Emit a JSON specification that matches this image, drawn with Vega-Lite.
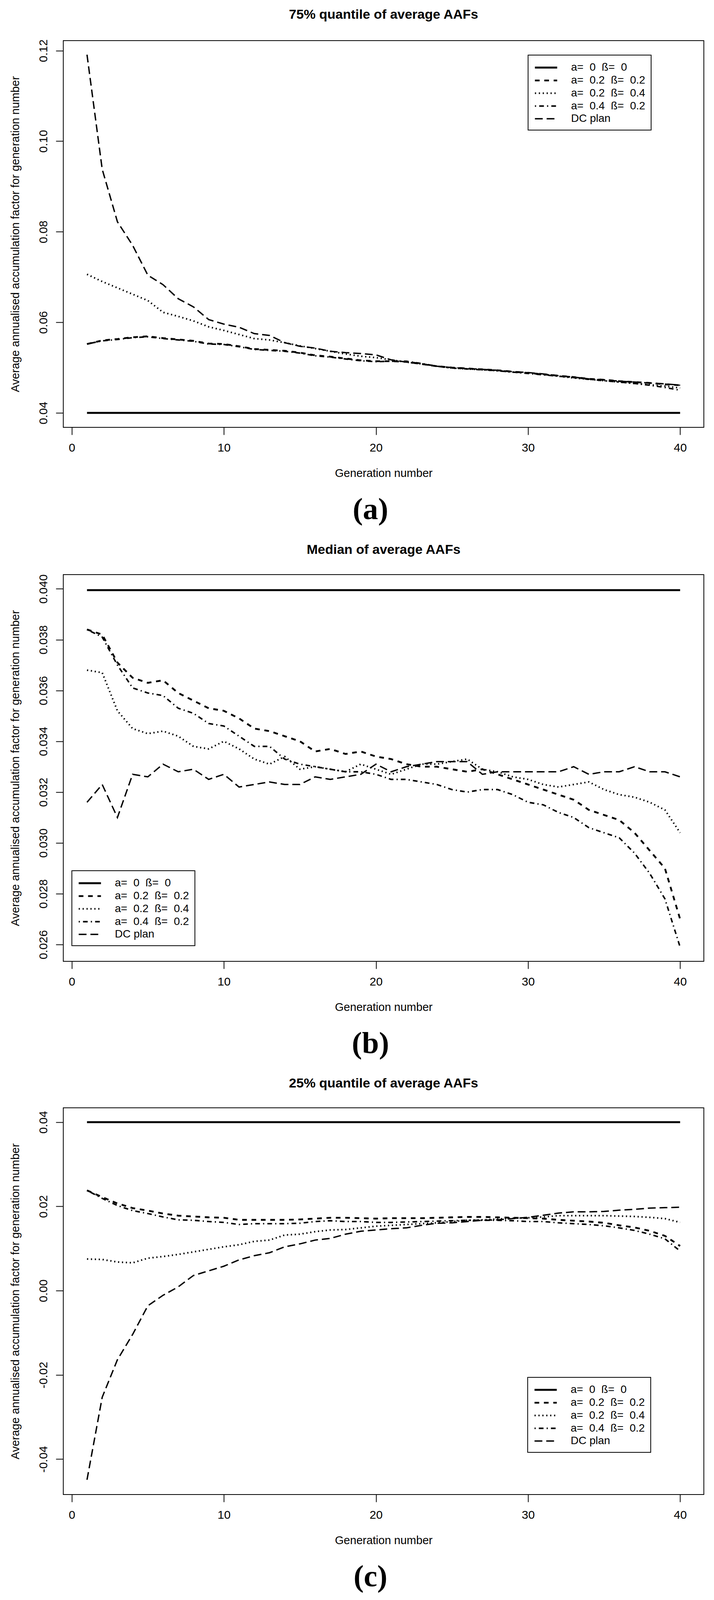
{
"$schema": "https://vega.github.io/schema/vega-lite/v6.json",
"padding": {"left": 23, "top": 20, "right": 5, "bottom": 5},
"data": {"values": [
{"panel":"a","series":"s1","gen":1,"value":0.04},{"panel":"a","series":"s1","gen":2,"value":0.04},{"panel":"a","series":"s1","gen":3,"value":0.04},{"panel":"a","series":"s1","gen":4,"value":0.04},{"panel":"a","series":"s1","gen":5,"value":0.04},{"panel":"a","series":"s1","gen":6,"value":0.04},{"panel":"a","series":"s1","gen":7,"value":0.04},{"panel":"a","series":"s1","gen":8,"value":0.04},{"panel":"a","series":"s1","gen":9,"value":0.04},{"panel":"a","series":"s1","gen":10,"value":0.04},
{"panel":"a","series":"s1","gen":11,"value":0.04},{"panel":"a","series":"s1","gen":12,"value":0.04},{"panel":"a","series":"s1","gen":13,"value":0.04},{"panel":"a","series":"s1","gen":14,"value":0.04},{"panel":"a","series":"s1","gen":15,"value":0.04},{"panel":"a","series":"s1","gen":16,"value":0.04},{"panel":"a","series":"s1","gen":17,"value":0.04},{"panel":"a","series":"s1","gen":18,"value":0.04},{"panel":"a","series":"s1","gen":19,"value":0.04},{"panel":"a","series":"s1","gen":20,"value":0.04},
{"panel":"a","series":"s1","gen":21,"value":0.04},{"panel":"a","series":"s1","gen":22,"value":0.04},{"panel":"a","series":"s1","gen":23,"value":0.04},{"panel":"a","series":"s1","gen":24,"value":0.04},{"panel":"a","series":"s1","gen":25,"value":0.04},{"panel":"a","series":"s1","gen":26,"value":0.04},{"panel":"a","series":"s1","gen":27,"value":0.04},{"panel":"a","series":"s1","gen":28,"value":0.04},{"panel":"a","series":"s1","gen":29,"value":0.04},{"panel":"a","series":"s1","gen":30,"value":0.04},
{"panel":"a","series":"s1","gen":31,"value":0.04},{"panel":"a","series":"s1","gen":32,"value":0.04},{"panel":"a","series":"s1","gen":33,"value":0.04},{"panel":"a","series":"s1","gen":34,"value":0.04},{"panel":"a","series":"s1","gen":35,"value":0.04},{"panel":"a","series":"s1","gen":36,"value":0.04},{"panel":"a","series":"s1","gen":37,"value":0.04},{"panel":"a","series":"s1","gen":38,"value":0.04},{"panel":"a","series":"s1","gen":39,"value":0.04},{"panel":"a","series":"s1","gen":40,"value":0.04},
{"panel":"a","series":"s2","gen":1,"value":0.0552},{"panel":"a","series":"s2","gen":2,"value":0.0560},{"panel":"a","series":"s2","gen":3,"value":0.0563},{"panel":"a","series":"s2","gen":4,"value":0.0567},{"panel":"a","series":"s2","gen":5,"value":0.0569},{"panel":"a","series":"s2","gen":6,"value":0.0565},{"panel":"a","series":"s2","gen":7,"value":0.0562},{"panel":"a","series":"s2","gen":8,"value":0.0559},{"panel":"a","series":"s2","gen":9,"value":0.0553},{"panel":"a","series":"s2","gen":10,"value":0.0552},
{"panel":"a","series":"s2","gen":11,"value":0.0547},{"panel":"a","series":"s2","gen":12,"value":0.0541},{"panel":"a","series":"s2","gen":13,"value":0.0539},{"panel":"a","series":"s2","gen":14,"value":0.0537},{"panel":"a","series":"s2","gen":15,"value":0.0533},{"panel":"a","series":"s2","gen":16,"value":0.0527},{"panel":"a","series":"s2","gen":17,"value":0.0524},{"panel":"a","series":"s2","gen":18,"value":0.0520},{"panel":"a","series":"s2","gen":19,"value":0.0516},{"panel":"a","series":"s2","gen":20,"value":0.0514},
{"panel":"a","series":"s2","gen":21,"value":0.0514},{"panel":"a","series":"s2","gen":22,"value":0.0513},{"panel":"a","series":"s2","gen":23,"value":0.0508},{"panel":"a","series":"s2","gen":24,"value":0.0503},{"panel":"a","series":"s2","gen":25,"value":0.0500},{"panel":"a","series":"s2","gen":26,"value":0.0498},{"panel":"a","series":"s2","gen":27,"value":0.0496},{"panel":"a","series":"s2","gen":28,"value":0.0494},{"panel":"a","series":"s2","gen":29,"value":0.0491},{"panel":"a","series":"s2","gen":30,"value":0.0488},
{"panel":"a","series":"s2","gen":31,"value":0.0485},{"panel":"a","series":"s2","gen":32,"value":0.0482},{"panel":"a","series":"s2","gen":33,"value":0.0479},{"panel":"a","series":"s2","gen":34,"value":0.0475},{"panel":"a","series":"s2","gen":35,"value":0.0473},{"panel":"a","series":"s2","gen":36,"value":0.0470},{"panel":"a","series":"s2","gen":37,"value":0.0468},{"panel":"a","series":"s2","gen":38,"value":0.0466},{"panel":"a","series":"s2","gen":39,"value":0.0463},{"panel":"a","series":"s2","gen":40,"value":0.0461},
{"panel":"a","series":"s3","gen":1,"value":0.0706},{"panel":"a","series":"s3","gen":2,"value":0.0690},{"panel":"a","series":"s3","gen":3,"value":0.0676},{"panel":"a","series":"s3","gen":4,"value":0.0662},{"panel":"a","series":"s3","gen":5,"value":0.0648},{"panel":"a","series":"s3","gen":6,"value":0.0622},{"panel":"a","series":"s3","gen":7,"value":0.0613},{"panel":"a","series":"s3","gen":8,"value":0.0603},{"panel":"a","series":"s3","gen":9,"value":0.0590},{"panel":"a","series":"s3","gen":10,"value":0.0582},
{"panel":"a","series":"s3","gen":11,"value":0.0573},{"panel":"a","series":"s3","gen":12,"value":0.0564},{"panel":"a","series":"s3","gen":13,"value":0.0561},{"panel":"a","series":"s3","gen":14,"value":0.0555},{"panel":"a","series":"s3","gen":15,"value":0.0548},{"panel":"a","series":"s3","gen":16,"value":0.0542},{"panel":"a","series":"s3","gen":17,"value":0.0536},{"panel":"a","series":"s3","gen":18,"value":0.0530},{"panel":"a","series":"s3","gen":19,"value":0.0525},{"panel":"a","series":"s3","gen":20,"value":0.0522},
{"panel":"a","series":"s3","gen":21,"value":0.0517},{"panel":"a","series":"s3","gen":22,"value":0.0512},{"panel":"a","series":"s3","gen":23,"value":0.0508},{"panel":"a","series":"s3","gen":24,"value":0.0503},{"panel":"a","series":"s3","gen":25,"value":0.0499},{"panel":"a","series":"s3","gen":26,"value":0.0497},{"panel":"a","series":"s3","gen":27,"value":0.0495},{"panel":"a","series":"s3","gen":28,"value":0.0493},{"panel":"a","series":"s3","gen":29,"value":0.0490},{"panel":"a","series":"s3","gen":30,"value":0.0488},
{"panel":"a","series":"s3","gen":31,"value":0.0485},{"panel":"a","series":"s3","gen":32,"value":0.0481},{"panel":"a","series":"s3","gen":33,"value":0.0477},{"panel":"a","series":"s3","gen":34,"value":0.0474},{"panel":"a","series":"s3","gen":35,"value":0.0471},{"panel":"a","series":"s3","gen":36,"value":0.0468},{"panel":"a","series":"s3","gen":37,"value":0.0465},{"panel":"a","series":"s3","gen":38,"value":0.0462},{"panel":"a","series":"s3","gen":39,"value":0.0459},{"panel":"a","series":"s3","gen":40,"value":0.0455},
{"panel":"a","series":"s4","gen":1,"value":0.0552},{"panel":"a","series":"s4","gen":2,"value":0.0559},{"panel":"a","series":"s4","gen":3,"value":0.0562},{"panel":"a","series":"s4","gen":4,"value":0.0566},{"panel":"a","series":"s4","gen":5,"value":0.0568},{"panel":"a","series":"s4","gen":6,"value":0.0564},{"panel":"a","series":"s4","gen":7,"value":0.0561},{"panel":"a","series":"s4","gen":8,"value":0.0558},{"panel":"a","series":"s4","gen":9,"value":0.0552},{"panel":"a","series":"s4","gen":10,"value":0.0551},
{"panel":"a","series":"s4","gen":11,"value":0.0546},{"panel":"a","series":"s4","gen":12,"value":0.0540},{"panel":"a","series":"s4","gen":13,"value":0.0538},{"panel":"a","series":"s4","gen":14,"value":0.0536},{"panel":"a","series":"s4","gen":15,"value":0.0532},{"panel":"a","series":"s4","gen":16,"value":0.0526},{"panel":"a","series":"s4","gen":17,"value":0.0523},{"panel":"a","series":"s4","gen":18,"value":0.0519},{"panel":"a","series":"s4","gen":19,"value":0.0515},{"panel":"a","series":"s4","gen":20,"value":0.0513},
{"panel":"a","series":"s4","gen":21,"value":0.0514},{"panel":"a","series":"s4","gen":22,"value":0.0514},{"panel":"a","series":"s4","gen":23,"value":0.0509},{"panel":"a","series":"s4","gen":24,"value":0.0503},{"panel":"a","series":"s4","gen":25,"value":0.0499},{"panel":"a","series":"s4","gen":26,"value":0.0497},{"panel":"a","series":"s4","gen":27,"value":0.0495},{"panel":"a","series":"s4","gen":28,"value":0.0493},{"panel":"a","series":"s4","gen":29,"value":0.0490},{"panel":"a","series":"s4","gen":30,"value":0.0487},
{"panel":"a","series":"s4","gen":31,"value":0.0484},{"panel":"a","series":"s4","gen":32,"value":0.0481},{"panel":"a","series":"s4","gen":33,"value":0.0478},{"panel":"a","series":"s4","gen":34,"value":0.0474},{"panel":"a","series":"s4","gen":35,"value":0.0471},{"panel":"a","series":"s4","gen":36,"value":0.0468},{"panel":"a","series":"s4","gen":37,"value":0.0465},{"panel":"a","series":"s4","gen":38,"value":0.0461},{"panel":"a","series":"s4","gen":39,"value":0.0456},{"panel":"a","series":"s4","gen":40,"value":0.0450},
{"panel":"a","series":"s5","gen":1,"value":0.1191},{"panel":"a","series":"s5","gen":2,"value":0.0938},{"panel":"a","series":"s5","gen":3,"value":0.0822},{"panel":"a","series":"s5","gen":4,"value":0.0770},{"panel":"a","series":"s5","gen":5,"value":0.0704},{"panel":"a","series":"s5","gen":6,"value":0.0683},{"panel":"a","series":"s5","gen":7,"value":0.0652},{"panel":"a","series":"s5","gen":8,"value":0.0634},{"panel":"a","series":"s5","gen":9,"value":0.0606},{"panel":"a","series":"s5","gen":10,"value":0.0596},
{"panel":"a","series":"s5","gen":11,"value":0.0589},{"panel":"a","series":"s5","gen":12,"value":0.0575},{"panel":"a","series":"s5","gen":13,"value":0.0571},{"panel":"a","series":"s5","gen":14,"value":0.0555},{"panel":"a","series":"s5","gen":15,"value":0.0547},{"panel":"a","series":"s5","gen":16,"value":0.0543},{"panel":"a","series":"s5","gen":17,"value":0.0536},{"panel":"a","series":"s5","gen":18,"value":0.0533},{"panel":"a","series":"s5","gen":19,"value":0.0531},{"panel":"a","series":"s5","gen":20,"value":0.0528},
{"panel":"a","series":"s5","gen":21,"value":0.0517},{"panel":"a","series":"s5","gen":22,"value":0.0512},{"panel":"a","series":"s5","gen":23,"value":0.0508},{"panel":"a","series":"s5","gen":24,"value":0.0503},{"panel":"a","series":"s5","gen":25,"value":0.0500},{"panel":"a","series":"s5","gen":26,"value":0.0498},{"panel":"a","series":"s5","gen":27,"value":0.0496},{"panel":"a","series":"s5","gen":28,"value":0.0494},{"panel":"a","series":"s5","gen":29,"value":0.0491},{"panel":"a","series":"s5","gen":30,"value":0.0489},
{"panel":"a","series":"s5","gen":31,"value":0.0486},{"panel":"a","series":"s5","gen":32,"value":0.0482},{"panel":"a","series":"s5","gen":33,"value":0.0479},{"panel":"a","series":"s5","gen":34,"value":0.0475},{"panel":"a","series":"s5","gen":35,"value":0.0473},{"panel":"a","series":"s5","gen":36,"value":0.0470},{"panel":"a","series":"s5","gen":37,"value":0.0468},{"panel":"a","series":"s5","gen":38,"value":0.0466},{"panel":"a","series":"s5","gen":39,"value":0.0464},{"panel":"a","series":"s5","gen":40,"value":0.0461},
{"panel":"b","series":"s1","gen":1,"value":0.03995},{"panel":"b","series":"s1","gen":2,"value":0.03995},{"panel":"b","series":"s1","gen":3,"value":0.03995},{"panel":"b","series":"s1","gen":4,"value":0.03995},{"panel":"b","series":"s1","gen":5,"value":0.03995},{"panel":"b","series":"s1","gen":6,"value":0.03995},{"panel":"b","series":"s1","gen":7,"value":0.03995},{"panel":"b","series":"s1","gen":8,"value":0.03995},{"panel":"b","series":"s1","gen":9,"value":0.03995},{"panel":"b","series":"s1","gen":10,"value":0.03995},
{"panel":"b","series":"s1","gen":11,"value":0.03995},{"panel":"b","series":"s1","gen":12,"value":0.03995},{"panel":"b","series":"s1","gen":13,"value":0.03995},{"panel":"b","series":"s1","gen":14,"value":0.03995},{"panel":"b","series":"s1","gen":15,"value":0.03995},{"panel":"b","series":"s1","gen":16,"value":0.03995},{"panel":"b","series":"s1","gen":17,"value":0.03995},{"panel":"b","series":"s1","gen":18,"value":0.03995},{"panel":"b","series":"s1","gen":19,"value":0.03995},{"panel":"b","series":"s1","gen":20,"value":0.03995},
{"panel":"b","series":"s1","gen":21,"value":0.03995},{"panel":"b","series":"s1","gen":22,"value":0.03995},{"panel":"b","series":"s1","gen":23,"value":0.03995},{"panel":"b","series":"s1","gen":24,"value":0.03995},{"panel":"b","series":"s1","gen":25,"value":0.03995},{"panel":"b","series":"s1","gen":26,"value":0.03995},{"panel":"b","series":"s1","gen":27,"value":0.03995},{"panel":"b","series":"s1","gen":28,"value":0.03995},{"panel":"b","series":"s1","gen":29,"value":0.03995},{"panel":"b","series":"s1","gen":30,"value":0.03995},
{"panel":"b","series":"s1","gen":31,"value":0.03995},{"panel":"b","series":"s1","gen":32,"value":0.03995},{"panel":"b","series":"s1","gen":33,"value":0.03995},{"panel":"b","series":"s1","gen":34,"value":0.03995},{"panel":"b","series":"s1","gen":35,"value":0.03995},{"panel":"b","series":"s1","gen":36,"value":0.03995},{"panel":"b","series":"s1","gen":37,"value":0.03995},{"panel":"b","series":"s1","gen":38,"value":0.03995},{"panel":"b","series":"s1","gen":39,"value":0.03995},{"panel":"b","series":"s1","gen":40,"value":0.03995},
{"panel":"b","series":"s2","gen":1,"value":0.0384},{"panel":"b","series":"s2","gen":2,"value":0.0382},{"panel":"b","series":"s2","gen":3,"value":0.0371},{"panel":"b","series":"s2","gen":4,"value":0.0365},{"panel":"b","series":"s2","gen":5,"value":0.0363},{"panel":"b","series":"s2","gen":6,"value":0.0364},{"panel":"b","series":"s2","gen":7,"value":0.0359},{"panel":"b","series":"s2","gen":8,"value":0.0356},{"panel":"b","series":"s2","gen":9,"value":0.0353},{"panel":"b","series":"s2","gen":10,"value":0.0352},
{"panel":"b","series":"s2","gen":11,"value":0.0349},{"panel":"b","series":"s2","gen":12,"value":0.0345},{"panel":"b","series":"s2","gen":13,"value":0.0344},{"panel":"b","series":"s2","gen":14,"value":0.0342},{"panel":"b","series":"s2","gen":15,"value":0.0340},{"panel":"b","series":"s2","gen":16,"value":0.0336},{"panel":"b","series":"s2","gen":17,"value":0.0337},{"panel":"b","series":"s2","gen":18,"value":0.0335},{"panel":"b","series":"s2","gen":19,"value":0.0336},{"panel":"b","series":"s2","gen":20,"value":0.0334},
{"panel":"b","series":"s2","gen":21,"value":0.0333},{"panel":"b","series":"s2","gen":22,"value":0.0331},{"panel":"b","series":"s2","gen":23,"value":0.0330},{"panel":"b","series":"s2","gen":24,"value":0.0330},{"panel":"b","series":"s2","gen":25,"value":0.0329},{"panel":"b","series":"s2","gen":26,"value":0.0328},{"panel":"b","series":"s2","gen":27,"value":0.0329},{"panel":"b","series":"s2","gen":28,"value":0.0327},{"panel":"b","series":"s2","gen":29,"value":0.0325},{"panel":"b","series":"s2","gen":30,"value":0.0323},
{"panel":"b","series":"s2","gen":31,"value":0.0321},{"panel":"b","series":"s2","gen":32,"value":0.0319},{"panel":"b","series":"s2","gen":33,"value":0.0317},{"panel":"b","series":"s2","gen":34,"value":0.0313},{"panel":"b","series":"s2","gen":35,"value":0.0311},{"panel":"b","series":"s2","gen":36,"value":0.0309},{"panel":"b","series":"s2","gen":37,"value":0.0304},{"panel":"b","series":"s2","gen":38,"value":0.0297},{"panel":"b","series":"s2","gen":39,"value":0.0290},{"panel":"b","series":"s2","gen":40,"value":0.0270},
{"panel":"b","series":"s3","gen":1,"value":0.0368},{"panel":"b","series":"s3","gen":2,"value":0.0367},{"panel":"b","series":"s3","gen":3,"value":0.0352},{"panel":"b","series":"s3","gen":4,"value":0.0345},{"panel":"b","series":"s3","gen":5,"value":0.0343},{"panel":"b","series":"s3","gen":6,"value":0.0344},{"panel":"b","series":"s3","gen":7,"value":0.0342},{"panel":"b","series":"s3","gen":8,"value":0.0338},{"panel":"b","series":"s3","gen":9,"value":0.0337},{"panel":"b","series":"s3","gen":10,"value":0.0340},
{"panel":"b","series":"s3","gen":11,"value":0.0337},{"panel":"b","series":"s3","gen":12,"value":0.0333},{"panel":"b","series":"s3","gen":13,"value":0.0331},{"panel":"b","series":"s3","gen":14,"value":0.0334},{"panel":"b","series":"s3","gen":15,"value":0.0329},{"panel":"b","series":"s3","gen":16,"value":0.0330},{"panel":"b","series":"s3","gen":17,"value":0.0329},{"panel":"b","series":"s3","gen":18,"value":0.0328},{"panel":"b","series":"s3","gen":19,"value":0.0331},{"panel":"b","series":"s3","gen":20,"value":0.0329},
{"panel":"b","series":"s3","gen":21,"value":0.0327},{"panel":"b","series":"s3","gen":22,"value":0.0329},{"panel":"b","series":"s3","gen":23,"value":0.0331},{"panel":"b","series":"s3","gen":24,"value":0.0331},{"panel":"b","series":"s3","gen":25,"value":0.0332},{"panel":"b","series":"s3","gen":26,"value":0.0333},{"panel":"b","series":"s3","gen":27,"value":0.0329},{"panel":"b","series":"s3","gen":28,"value":0.0328},{"panel":"b","series":"s3","gen":29,"value":0.0326},{"panel":"b","series":"s3","gen":30,"value":0.0325},
{"panel":"b","series":"s3","gen":31,"value":0.0323},{"panel":"b","series":"s3","gen":32,"value":0.0322},{"panel":"b","series":"s3","gen":33,"value":0.0323},{"panel":"b","series":"s3","gen":34,"value":0.0324},{"panel":"b","series":"s3","gen":35,"value":0.0321},{"panel":"b","series":"s3","gen":36,"value":0.0319},{"panel":"b","series":"s3","gen":37,"value":0.0318},{"panel":"b","series":"s3","gen":38,"value":0.0316},{"panel":"b","series":"s3","gen":39,"value":0.0313},{"panel":"b","series":"s3","gen":40,"value":0.0304},
{"panel":"b","series":"s4","gen":1,"value":0.0384},{"panel":"b","series":"s4","gen":2,"value":0.0381},{"panel":"b","series":"s4","gen":3,"value":0.0370},{"panel":"b","series":"s4","gen":4,"value":0.0361},{"panel":"b","series":"s4","gen":5,"value":0.0359},{"panel":"b","series":"s4","gen":6,"value":0.0358},{"panel":"b","series":"s4","gen":7,"value":0.0353},{"panel":"b","series":"s4","gen":8,"value":0.0351},{"panel":"b","series":"s4","gen":9,"value":0.0347},{"panel":"b","series":"s4","gen":10,"value":0.0346},
{"panel":"b","series":"s4","gen":11,"value":0.0342},{"panel":"b","series":"s4","gen":12,"value":0.0338},{"panel":"b","series":"s4","gen":13,"value":0.0338},{"panel":"b","series":"s4","gen":14,"value":0.0333},{"panel":"b","series":"s4","gen":15,"value":0.0331},{"panel":"b","series":"s4","gen":16,"value":0.0330},{"panel":"b","series":"s4","gen":17,"value":0.0329},{"panel":"b","series":"s4","gen":18,"value":0.0328},{"panel":"b","series":"s4","gen":19,"value":0.0328},{"panel":"b","series":"s4","gen":20,"value":0.0327},
{"panel":"b","series":"s4","gen":21,"value":0.0325},{"panel":"b","series":"s4","gen":22,"value":0.0325},{"panel":"b","series":"s4","gen":23,"value":0.0324},{"panel":"b","series":"s4","gen":24,"value":0.0323},{"panel":"b","series":"s4","gen":25,"value":0.0321},{"panel":"b","series":"s4","gen":26,"value":0.0320},{"panel":"b","series":"s4","gen":27,"value":0.0321},{"panel":"b","series":"s4","gen":28,"value":0.0321},{"panel":"b","series":"s4","gen":29,"value":0.0319},{"panel":"b","series":"s4","gen":30,"value":0.0316},
{"panel":"b","series":"s4","gen":31,"value":0.0315},{"panel":"b","series":"s4","gen":32,"value":0.0312},{"panel":"b","series":"s4","gen":33,"value":0.0310},{"panel":"b","series":"s4","gen":34,"value":0.0306},{"panel":"b","series":"s4","gen":35,"value":0.0304},{"panel":"b","series":"s4","gen":36,"value":0.0302},{"panel":"b","series":"s4","gen":37,"value":0.0296},{"panel":"b","series":"s4","gen":38,"value":0.0288},{"panel":"b","series":"s4","gen":39,"value":0.0278},{"panel":"b","series":"s4","gen":40,"value":0.0259},
{"panel":"b","series":"s5","gen":1,"value":0.0316},{"panel":"b","series":"s5","gen":2,"value":0.0323},{"panel":"b","series":"s5","gen":3,"value":0.0310},{"panel":"b","series":"s5","gen":4,"value":0.0327},{"panel":"b","series":"s5","gen":5,"value":0.0326},{"panel":"b","series":"s5","gen":6,"value":0.0331},{"panel":"b","series":"s5","gen":7,"value":0.0328},{"panel":"b","series":"s5","gen":8,"value":0.0329},{"panel":"b","series":"s5","gen":9,"value":0.0325},{"panel":"b","series":"s5","gen":10,"value":0.0327},
{"panel":"b","series":"s5","gen":11,"value":0.0322},{"panel":"b","series":"s5","gen":12,"value":0.0323},{"panel":"b","series":"s5","gen":13,"value":0.0324},{"panel":"b","series":"s5","gen":14,"value":0.0323},{"panel":"b","series":"s5","gen":15,"value":0.0323},{"panel":"b","series":"s5","gen":16,"value":0.0326},{"panel":"b","series":"s5","gen":17,"value":0.0325},{"panel":"b","series":"s5","gen":18,"value":0.0326},{"panel":"b","series":"s5","gen":19,"value":0.0327},{"panel":"b","series":"s5","gen":20,"value":0.0331},
{"panel":"b","series":"s5","gen":21,"value":0.0328},{"panel":"b","series":"s5","gen":22,"value":0.0330},{"panel":"b","series":"s5","gen":23,"value":0.0331},{"panel":"b","series":"s5","gen":24,"value":0.0332},{"panel":"b","series":"s5","gen":25,"value":0.0332},{"panel":"b","series":"s5","gen":26,"value":0.0332},{"panel":"b","series":"s5","gen":27,"value":0.0327},{"panel":"b","series":"s5","gen":28,"value":0.0328},{"panel":"b","series":"s5","gen":29,"value":0.0328},{"panel":"b","series":"s5","gen":30,"value":0.0328},
{"panel":"b","series":"s5","gen":31,"value":0.0328},{"panel":"b","series":"s5","gen":32,"value":0.0328},{"panel":"b","series":"s5","gen":33,"value":0.0330},{"panel":"b","series":"s5","gen":34,"value":0.0327},{"panel":"b","series":"s5","gen":35,"value":0.0328},{"panel":"b","series":"s5","gen":36,"value":0.0328},{"panel":"b","series":"s5","gen":37,"value":0.0330},{"panel":"b","series":"s5","gen":38,"value":0.0328},{"panel":"b","series":"s5","gen":39,"value":0.0328},{"panel":"b","series":"s5","gen":40,"value":0.0326},
{"panel":"c","series":"s1","gen":1,"value":0.04},{"panel":"c","series":"s1","gen":2,"value":0.04},{"panel":"c","series":"s1","gen":3,"value":0.04},{"panel":"c","series":"s1","gen":4,"value":0.04},{"panel":"c","series":"s1","gen":5,"value":0.04},{"panel":"c","series":"s1","gen":6,"value":0.04},{"panel":"c","series":"s1","gen":7,"value":0.04},{"panel":"c","series":"s1","gen":8,"value":0.04},{"panel":"c","series":"s1","gen":9,"value":0.04},{"panel":"c","series":"s1","gen":10,"value":0.04},
{"panel":"c","series":"s1","gen":11,"value":0.04},{"panel":"c","series":"s1","gen":12,"value":0.04},{"panel":"c","series":"s1","gen":13,"value":0.04},{"panel":"c","series":"s1","gen":14,"value":0.04},{"panel":"c","series":"s1","gen":15,"value":0.04},{"panel":"c","series":"s1","gen":16,"value":0.04},{"panel":"c","series":"s1","gen":17,"value":0.04},{"panel":"c","series":"s1","gen":18,"value":0.04},{"panel":"c","series":"s1","gen":19,"value":0.04},{"panel":"c","series":"s1","gen":20,"value":0.04},
{"panel":"c","series":"s1","gen":21,"value":0.04},{"panel":"c","series":"s1","gen":22,"value":0.04},{"panel":"c","series":"s1","gen":23,"value":0.04},{"panel":"c","series":"s1","gen":24,"value":0.04},{"panel":"c","series":"s1","gen":25,"value":0.04},{"panel":"c","series":"s1","gen":26,"value":0.04},{"panel":"c","series":"s1","gen":27,"value":0.04},{"panel":"c","series":"s1","gen":28,"value":0.04},{"panel":"c","series":"s1","gen":29,"value":0.04},{"panel":"c","series":"s1","gen":30,"value":0.04},
{"panel":"c","series":"s1","gen":31,"value":0.04},{"panel":"c","series":"s1","gen":32,"value":0.04},{"panel":"c","series":"s1","gen":33,"value":0.04},{"panel":"c","series":"s1","gen":34,"value":0.04},{"panel":"c","series":"s1","gen":35,"value":0.04},{"panel":"c","series":"s1","gen":36,"value":0.04},{"panel":"c","series":"s1","gen":37,"value":0.04},{"panel":"c","series":"s1","gen":38,"value":0.04},{"panel":"c","series":"s1","gen":39,"value":0.04},{"panel":"c","series":"s1","gen":40,"value":0.04},
{"panel":"c","series":"s2","gen":1,"value":0.0238},{"panel":"c","series":"s2","gen":2,"value":0.0222},{"panel":"c","series":"s2","gen":3,"value":0.0207},{"panel":"c","series":"s2","gen":4,"value":0.0196},{"panel":"c","series":"s2","gen":5,"value":0.0190},{"panel":"c","series":"s2","gen":6,"value":0.0183},{"panel":"c","series":"s2","gen":7,"value":0.0178},{"panel":"c","series":"s2","gen":8,"value":0.0176},{"panel":"c","series":"s2","gen":9,"value":0.0174},{"panel":"c","series":"s2","gen":10,"value":0.0173},
{"panel":"c","series":"s2","gen":11,"value":0.0168},{"panel":"c","series":"s2","gen":12,"value":0.0168},{"panel":"c","series":"s2","gen":13,"value":0.0168},{"panel":"c","series":"s2","gen":14,"value":0.0168},{"panel":"c","series":"s2","gen":15,"value":0.0169},{"panel":"c","series":"s2","gen":16,"value":0.0171},{"panel":"c","series":"s2","gen":17,"value":0.0173},{"panel":"c","series":"s2","gen":18,"value":0.0173},{"panel":"c","series":"s2","gen":19,"value":0.0172},{"panel":"c","series":"s2","gen":20,"value":0.0171},
{"panel":"c","series":"s2","gen":21,"value":0.0172},{"panel":"c","series":"s2","gen":22,"value":0.0172},{"panel":"c","series":"s2","gen":23,"value":0.0172},{"panel":"c","series":"s2","gen":24,"value":0.0173},{"panel":"c","series":"s2","gen":25,"value":0.0174},{"panel":"c","series":"s2","gen":26,"value":0.0175},{"panel":"c","series":"s2","gen":27,"value":0.0175},{"panel":"c","series":"s2","gen":28,"value":0.0174},{"panel":"c","series":"s2","gen":29,"value":0.0173},{"panel":"c","series":"s2","gen":30,"value":0.0172},
{"panel":"c","series":"s2","gen":31,"value":0.0171},{"panel":"c","series":"s2","gen":32,"value":0.0168},{"panel":"c","series":"s2","gen":33,"value":0.0166},{"panel":"c","series":"s2","gen":34,"value":0.0164},{"panel":"c","series":"s2","gen":35,"value":0.0161},{"panel":"c","series":"s2","gen":36,"value":0.0155},{"panel":"c","series":"s2","gen":37,"value":0.0150},{"panel":"c","series":"s2","gen":38,"value":0.0142},{"panel":"c","series":"s2","gen":39,"value":0.0130},{"panel":"c","series":"s2","gen":40,"value":0.0106},
{"panel":"c","series":"s3","gen":1,"value":0.0075},{"panel":"c","series":"s3","gen":2,"value":0.0074},{"panel":"c","series":"s3","gen":3,"value":0.0068},{"panel":"c","series":"s3","gen":4,"value":0.0066},{"panel":"c","series":"s3","gen":5,"value":0.0077},{"panel":"c","series":"s3","gen":6,"value":0.0081},{"panel":"c","series":"s3","gen":7,"value":0.0086},{"panel":"c","series":"s3","gen":8,"value":0.0092},{"panel":"c","series":"s3","gen":9,"value":0.0098},{"panel":"c","series":"s3","gen":10,"value":0.0104},
{"panel":"c","series":"s3","gen":11,"value":0.0109},{"panel":"c","series":"s3","gen":12,"value":0.0117},{"panel":"c","series":"s3","gen":13,"value":0.0120},{"panel":"c","series":"s3","gen":14,"value":0.0132},{"panel":"c","series":"s3","gen":15,"value":0.0134},{"panel":"c","series":"s3","gen":16,"value":0.0140},{"panel":"c","series":"s3","gen":17,"value":0.0144},{"panel":"c","series":"s3","gen":18,"value":0.0145},{"panel":"c","series":"s3","gen":19,"value":0.0149},{"panel":"c","series":"s3","gen":20,"value":0.0153},
{"panel":"c","series":"s3","gen":21,"value":0.0155},{"panel":"c","series":"s3","gen":22,"value":0.0157},{"panel":"c","series":"s3","gen":23,"value":0.0159},{"panel":"c","series":"s3","gen":24,"value":0.0161},{"panel":"c","series":"s3","gen":25,"value":0.0164},{"panel":"c","series":"s3","gen":26,"value":0.0167},{"panel":"c","series":"s3","gen":27,"value":0.0168},{"panel":"c","series":"s3","gen":28,"value":0.0170},{"panel":"c","series":"s3","gen":29,"value":0.0172},{"panel":"c","series":"s3","gen":30,"value":0.0173},
{"panel":"c","series":"s3","gen":31,"value":0.0175},{"panel":"c","series":"s3","gen":32,"value":0.0178},{"panel":"c","series":"s3","gen":33,"value":0.0178},{"panel":"c","series":"s3","gen":34,"value":0.0178},{"panel":"c","series":"s3","gen":35,"value":0.0178},{"panel":"c","series":"s3","gen":36,"value":0.0177},{"panel":"c","series":"s3","gen":37,"value":0.0176},{"panel":"c","series":"s3","gen":38,"value":0.0174},{"panel":"c","series":"s3","gen":39,"value":0.0171},{"panel":"c","series":"s3","gen":40,"value":0.0162},
{"panel":"c","series":"s4","gen":1,"value":0.0238},{"panel":"c","series":"s4","gen":2,"value":0.0219},{"panel":"c","series":"s4","gen":3,"value":0.0202},{"panel":"c","series":"s4","gen":4,"value":0.0190},{"panel":"c","series":"s4","gen":5,"value":0.0183},{"panel":"c","series":"s4","gen":6,"value":0.0175},{"panel":"c","series":"s4","gen":7,"value":0.0168},{"panel":"c","series":"s4","gen":8,"value":0.0167},{"panel":"c","series":"s4","gen":9,"value":0.0164},{"panel":"c","series":"s4","gen":10,"value":0.0162},
{"panel":"c","series":"s4","gen":11,"value":0.0157},{"panel":"c","series":"s4","gen":12,"value":0.0159},{"panel":"c","series":"s4","gen":13,"value":0.0159},{"panel":"c","series":"s4","gen":14,"value":0.0159},{"panel":"c","series":"s4","gen":15,"value":0.0160},{"panel":"c","series":"s4","gen":16,"value":0.0164},{"panel":"c","series":"s4","gen":17,"value":0.0166},{"panel":"c","series":"s4","gen":18,"value":0.0164},{"panel":"c","series":"s4","gen":19,"value":0.0164},{"panel":"c","series":"s4","gen":20,"value":0.0162},
{"panel":"c","series":"s4","gen":21,"value":0.0162},{"panel":"c","series":"s4","gen":22,"value":0.0163},{"panel":"c","series":"s4","gen":23,"value":0.0164},{"panel":"c","series":"s4","gen":24,"value":0.0165},{"panel":"c","series":"s4","gen":25,"value":0.0166},{"panel":"c","series":"s4","gen":26,"value":0.0167},{"panel":"c","series":"s4","gen":27,"value":0.0167},{"panel":"c","series":"s4","gen":28,"value":0.0167},{"panel":"c","series":"s4","gen":29,"value":0.0166},{"panel":"c","series":"s4","gen":30,"value":0.0164},
{"panel":"c","series":"s4","gen":31,"value":0.0164},{"panel":"c","series":"s4","gen":32,"value":0.0161},{"panel":"c","series":"s4","gen":33,"value":0.0159},{"panel":"c","series":"s4","gen":34,"value":0.0157},{"panel":"c","series":"s4","gen":35,"value":0.0154},{"panel":"c","series":"s4","gen":36,"value":0.0149},{"panel":"c","series":"s4","gen":37,"value":0.0143},{"panel":"c","series":"s4","gen":38,"value":0.0134},{"panel":"c","series":"s4","gen":39,"value":0.0123},{"panel":"c","series":"s4","gen":40,"value":0.0094},
{"panel":"c","series":"s5","gen":1,"value":-0.0449},{"panel":"c","series":"s5","gen":2,"value":-0.0253},{"panel":"c","series":"s5","gen":3,"value":-0.0164},{"panel":"c","series":"s5","gen":4,"value":-0.0104},{"panel":"c","series":"s5","gen":5,"value":-0.0036},{"panel":"c","series":"s5","gen":6,"value":-0.0011},{"panel":"c","series":"s5","gen":7,"value":0.0009},{"panel":"c","series":"s5","gen":8,"value":0.0036},{"panel":"c","series":"s5","gen":9,"value":0.0047},{"panel":"c","series":"s5","gen":10,"value":0.0058},
{"panel":"c","series":"s5","gen":11,"value":0.0073},{"panel":"c","series":"s5","gen":12,"value":0.0083},{"panel":"c","series":"s5","gen":13,"value":0.0090},{"panel":"c","series":"s5","gen":14,"value":0.0104},{"panel":"c","series":"s5","gen":15,"value":0.0111},{"panel":"c","series":"s5","gen":16,"value":0.0120},{"panel":"c","series":"s5","gen":17,"value":0.0124},{"panel":"c","series":"s5","gen":18,"value":0.0134},{"panel":"c","series":"s5","gen":19,"value":0.0141},{"panel":"c","series":"s5","gen":20,"value":0.0144},
{"panel":"c","series":"s5","gen":21,"value":0.0147},{"panel":"c","series":"s5","gen":22,"value":0.0149},{"panel":"c","series":"s5","gen":23,"value":0.0155},{"panel":"c","series":"s5","gen":24,"value":0.0160},{"panel":"c","series":"s5","gen":25,"value":0.0161},{"panel":"c","series":"s5","gen":26,"value":0.0164},{"panel":"c","series":"s5","gen":27,"value":0.0167},{"panel":"c","series":"s5","gen":28,"value":0.0168},{"panel":"c","series":"s5","gen":29,"value":0.0171},{"panel":"c","series":"s5","gen":30,"value":0.0174},
{"panel":"c","series":"s5","gen":31,"value":0.0179},{"panel":"c","series":"s5","gen":32,"value":0.0184},{"panel":"c","series":"s5","gen":33,"value":0.0187},{"panel":"c","series":"s5","gen":34,"value":0.0187},{"panel":"c","series":"s5","gen":35,"value":0.0188},{"panel":"c","series":"s5","gen":36,"value":0.0191},{"panel":"c","series":"s5","gen":37,"value":0.0193},{"panel":"c","series":"s5","gen":38,"value":0.0196},{"panel":"c","series":"s5","gen":39,"value":0.0197},{"panel":"c","series":"s5","gen":40,"value":0.0198}
]},
"spacing": 44,
"vconcat": [
{
  "title": {"text": "(a)", "orient": "bottom", "anchor": "middle", "font": "Liberation Serif", "fontSize": 78, "fontWeight": "bold", "dx": 35, "offset": 40},
  "vconcat": [{
    "title": {"text": "75% quantile of average AAFs", "fontSize": 34, "fontWeight": "bold", "offset": 18, "baseline": "alphabetic"},
    "width": 1640,
    "height": 990,
    "transform": [{"filter": "datum.panel == 'a'"}],
    "mark": {"type": "line", "strokeCap": "butt"},
    "encoding": {
      "x": {"field": "gen", "type": "quantitative", "scale": {"domain": [-0.56, 41.56], "nice": false, "zero": false}, "axis": {"values": [0, 10, 20, 30, 40], "title": "Generation number"}},
      "y": {"field": "value", "type": "quantitative", "scale": {"domain": [0.0368, 0.1222], "nice": false, "zero": false}, "axis": {"values": [0.04, 0.06, 0.08, 0.10, 0.12], "format": ".2f", "title": "Average annualised accumulation factor for generation number"}},
      "strokeDash": {"field": "series", "type": "nominal", "scale": {"domain": ["s1", "s2", "s3", "s4", "s5"], "range": [[1, 0], [12, 12], [3, 7], [3, 8, 12, 8], [20, 10]]},
        "legend": {"legendX": 1190, "legendY": 37, "labelExpr": "{'s1': 'a=\u00a0 0\u00a0 ß=\u00a0 0', 's2': 'a=\u00a0 0.2\u00a0 ß=\u00a0 0.2', 's3': 'a=\u00a0 0.2\u00a0 ß=\u00a0 0.4', 's4': 'a=\u00a0 0.4\u00a0 ß=\u00a0 0.2', 's5': 'DC plan'}[datum.label]"}},
      "strokeWidth": {"field": "series", "type": "nominal", "scale": {"domain": ["s1", "s2", "s3", "s4", "s5"], "range": [5, 3.5, 2.5, 3, 4]},
        "legend": {"legendX": 1190, "legendY": 37, "labelExpr": "{'s1': 'a=\u00a0 0\u00a0 ß=\u00a0 0', 's2': 'a=\u00a0 0.2\u00a0 ß=\u00a0 0.2', 's3': 'a=\u00a0 0.2\u00a0 ß=\u00a0 0.4', 's4': 'a=\u00a0 0.4\u00a0 ß=\u00a0 0.2', 's5': 'DC plan'}[datum.label]"}}
    }
  }]
},
{
  "title": {"text": "(b)", "orient": "bottom", "anchor": "middle", "font": "Liberation Serif", "fontSize": 78, "fontWeight": "bold", "dx": 35, "offset": 40},
  "vconcat": [{
    "title": {"text": "Median of average AAFs", "fontSize": 34, "fontWeight": "bold", "offset": 18, "baseline": "alphabetic"},
    "width": 1640,
    "height": 990,
    "transform": [{"filter": "datum.panel == 'b'"}],
    "mark": {"type": "line", "strokeCap": "butt"},
    "encoding": {
      "x": {"field": "gen", "type": "quantitative", "scale": {"domain": [-0.56, 41.56], "nice": false, "zero": false}, "axis": {"values": [0, 10, 20, 30, 40], "title": "Generation number"}},
      "y": {"field": "value", "type": "quantitative", "scale": {"domain": [0.02534, 0.04056], "nice": false, "zero": false}, "axis": {"values": [0.026, 0.028, 0.030, 0.032, 0.034, 0.036, 0.038, 0.040], "format": ".3f", "title": "Average annualised accumulation factor for generation number"}},
      "strokeDash": {"field": "series", "type": "nominal", "scale": {"domain": ["s1", "s2", "s3", "s4", "s5"], "range": [[1, 0], [12, 12], [3, 7], [3, 8, 12, 8], [20, 10]]},
        "legend": {"legendX": 22, "legendY": 758, "labelExpr": "{'s1': 'a=\u00a0 0\u00a0 ß=\u00a0 0', 's2': 'a=\u00a0 0.2\u00a0 ß=\u00a0 0.2', 's3': 'a=\u00a0 0.2\u00a0 ß=\u00a0 0.4', 's4': 'a=\u00a0 0.4\u00a0 ß=\u00a0 0.2', 's5': 'DC plan'}[datum.label]"}},
      "strokeWidth": {"field": "series", "type": "nominal", "scale": {"domain": ["s1", "s2", "s3", "s4", "s5"], "range": [5, 3.5, 2.5, 3, 4]},
        "legend": {"legendX": 22, "legendY": 758, "labelExpr": "{'s1': 'a=\u00a0 0\u00a0 ß=\u00a0 0', 's2': 'a=\u00a0 0.2\u00a0 ß=\u00a0 0.2', 's3': 'a=\u00a0 0.2\u00a0 ß=\u00a0 0.4', 's4': 'a=\u00a0 0.4\u00a0 ß=\u00a0 0.2', 's5': 'DC plan'}[datum.label]"}}
    }
  }]
},
{
  "title": {"text": "(c)", "orient": "bottom", "anchor": "middle", "font": "Liberation Serif", "fontSize": 78, "fontWeight": "bold", "dx": 35, "offset": 40},
  "vconcat": [{
    "title": {"text": "25% quantile of average AAFs", "fontSize": 34, "fontWeight": "bold", "offset": 18, "baseline": "alphabetic"},
    "width": 1640,
    "height": 990,
    "transform": [{"filter": "datum.panel == 'c'"}],
    "mark": {"type": "line", "strokeCap": "butt"},
    "encoding": {
      "x": {"field": "gen", "type": "quantitative", "scale": {"domain": [-0.56, 41.56], "nice": false, "zero": false}, "axis": {"values": [0, 10, 20, 30, 40], "title": "Generation number"}},
      "y": {"field": "value", "type": "quantitative", "scale": {"domain": [-0.0484, 0.0434], "nice": false, "zero": false}, "axis": {"values": [-0.04, -0.02, 0, 0.02, 0.04], "labelExpr": "replace(format(datum.value, '.2f'), '\u2212', '-')", "title": "Average annualised accumulation factor for generation number"}},
      "strokeDash": {"field": "series", "type": "nominal", "scale": {"domain": ["s1", "s2", "s3", "s4", "s5"], "range": [[1, 0], [12, 12], [3, 7], [3, 8, 12, 8], [20, 10]]},
        "legend": {"legendX": 1189, "legendY": 690, "labelExpr": "{'s1': 'a=\u00a0 0\u00a0 ß=\u00a0 0', 's2': 'a=\u00a0 0.2\u00a0 ß=\u00a0 0.2', 's3': 'a=\u00a0 0.2\u00a0 ß=\u00a0 0.4', 's4': 'a=\u00a0 0.4\u00a0 ß=\u00a0 0.2', 's5': 'DC plan'}[datum.label]"}},
      "strokeWidth": {"field": "series", "type": "nominal", "scale": {"domain": ["s1", "s2", "s3", "s4", "s5"], "range": [5, 3.5, 2.5, 3, 4]},
        "legend": {"legendX": 1189, "legendY": 690, "labelExpr": "{'s1': 'a=\u00a0 0\u00a0 ß=\u00a0 0', 's2': 'a=\u00a0 0.2\u00a0 ß=\u00a0 0.2', 's3': 'a=\u00a0 0.2\u00a0 ß=\u00a0 0.4', 's4': 'a=\u00a0 0.4\u00a0 ß=\u00a0 0.2', 's5': 'DC plan'}[datum.label]"}}
    }
  }]
}
],
"resolve": {"scale": {"strokeDash": "independent", "strokeWidth": "independent"}},
"config": {
  "font": "Liberation Sans",
  "view": {"stroke": "black", "strokeWidth": 2},
  "line": {"color": "black"},
  "title": {"color": "black", "font": "Liberation Sans"},
  "axis": {"labelFont": "Liberation Sans", "labelFontSize": 30, "labelColor": "black", "titleFont": "Liberation Sans", "titleFontSize": 29, "titleFontWeight": "normal", "titleColor": "black", "tickSize": 19, "tickWidth": 2, "tickColor": "black", "grid": false, "domain": false},
  "axisX": {"labelPadding": 18, "titlePadding": 36},
  "axisY": {"labelAngle": -90, "labelPadding": 17, "titlePadding": 42},
  "legend": {"orient": "none", "title": null, "strokeColor": "black", "strokeWidth": 2, "fillColor": "white", "padding": 15, "labelFont": "Liberation Sans", "labelFontSize": 28, "labelColor": "black", "labelLimit": 0, "symbolType": "M-2,0H2", "symbolSize": 812, "symbolOffset": 14, "labelOffset": 47, "rowPadding": 2, "symbolStrokeColor": "black"}
}
}
